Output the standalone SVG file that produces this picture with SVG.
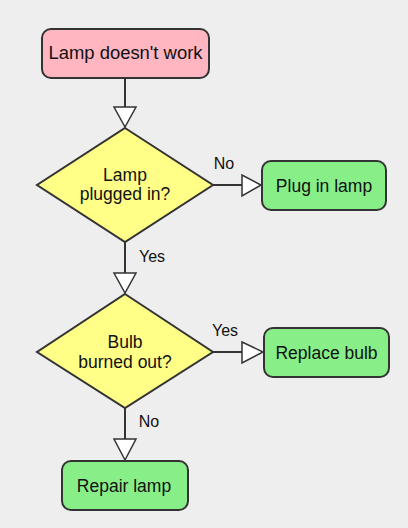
<svg xmlns="http://www.w3.org/2000/svg" width="408" height="528" viewBox="0 0 408 528">
<style>
.bg{fill:#eeeeee}
.box{stroke:#333333;stroke-width:2}
.start{fill:#ffb6c1}
.act{fill:#88ee88}
.dec{fill:#ffff88;stroke:#333333;stroke-width:2}
.t{font-family:"Liberation Sans",Arial,sans-serif;font-size:17.5px;fill:#111111;text-anchor:middle;dominant-baseline:central}
.lbl{font-family:"Liberation Sans",Arial,sans-serif;font-size:16px;fill:#111111;text-anchor:middle;dominant-baseline:central}
.edge{stroke:#333333;stroke-width:2;fill:none}
.head{fill:#ffffff;stroke:#333333;stroke-width:1.5}
</style>
<rect class="bg" x="0" y="0" width="408" height="528"/>
<g id="connectors">
<line class="edge" x1="125" y1="78" x2="125" y2="107"/>
<polygon class="head" points="114,107 136,107 125,127"/>
<line class="edge" x1="213" y1="185" x2="242" y2="185"/>
<polygon class="head" points="242,175 242,196 261,185"/>
<line class="edge" x1="125" y1="242" x2="125" y2="273"/>
<polygon class="head" points="114,273 136,273 125,293"/>
<line class="edge" x1="213" y1="352" x2="242" y2="352"/>
<polygon class="head" points="242,342 242,363 263,352"/>
<line class="edge" x1="125" y1="408" x2="125" y2="439"/>
<polygon class="head" points="114,439 136,439 125,460"/>
<text class="lbl" x="224" y="163">No</text>
<text class="lbl" x="152" y="256">Yes</text>
<text class="lbl" x="225" y="330">Yes</text>
<text class="lbl" x="149" y="421">No</text>
</g>
<g id="start">
<rect class="box start" x="42" y="29" width="167" height="49" rx="9"/>
<text class="t" x="125.5" y="53" textLength="154" lengthAdjust="spacingAndGlyphs">Lamp doesn't work</text>
</g>
<g id="plugged">
<polygon class="dec" points="125,128 213,185 125,242 37,185"/>
<text class="t" x="125" y="175">Lamp</text>
<text class="t" x="125" y="194">plugged in?</text>
</g>
<g id="pluglamp">
<rect class="box act" x="262" y="161" width="124" height="49" rx="9"/>
<text class="t" x="324" y="185.5">Plug in lamp</text>
</g>
<g id="bulb">
<polygon class="dec" points="125,294 213,352 125,408 37,352"/>
<text class="t" x="125" y="342">Bulb</text>
<text class="t" x="125" y="362">burned out?</text>
</g>
<g id="replace">
<rect class="box act" x="264" y="328" width="125" height="49" rx="9"/>
<text class="t" x="326.5" y="352.5">Replace bulb</text>
</g>
<g id="repair">
<rect class="box act" x="62" y="461" width="126" height="49" rx="9"/>
<text class="t" x="124" y="485.5">Repair lamp</text>
</g>
</svg>
